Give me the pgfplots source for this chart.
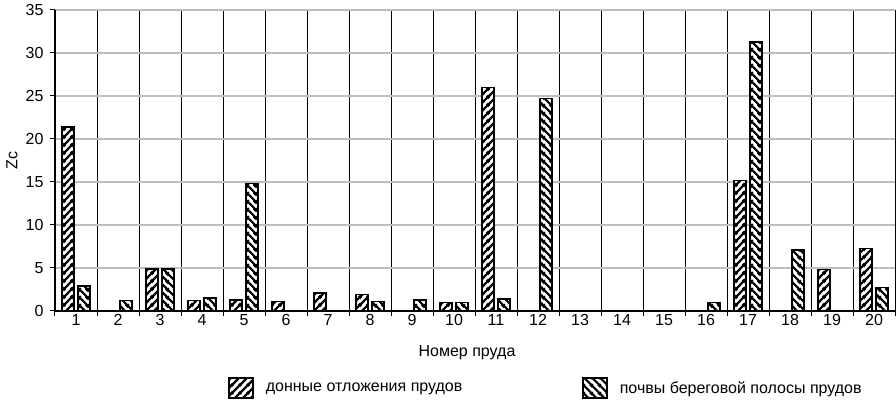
\documentclass[border=0pt]{standalone}
\usepackage{fontspec}
\setmainfont{Liberation Sans}
\usepackage{pgfplots}
\pgfplotsset{compat=1.18}
\usetikzlibrary{patterns.meta}

\tikzdeclarepattern{
  name=hne, type=uncolored,
  bounding box={(0,0) and (8pt,8pt)},
  tile size={(8pt,8pt)},
  code={
    \pgfsetlinewidth{2.4pt}
    \draw (-1pt,-1pt) -- (9pt,9pt);
    \draw (-2pt,6pt) -- (2pt,10pt);
    \draw (6pt,-2pt) -- (10pt,2pt);
  }
}
\tikzdeclarepattern{
  name=hnw, type=uncolored,
  bounding box={(0,0) and (8pt,8pt)},
  tile size={(8pt,8pt)},
  code={
    \pgfsetlinewidth{2.4pt}
    \draw (-1pt,9pt) -- (9pt,-1pt);
    \draw (-2pt,2pt) -- (2pt,-2pt);
    \draw (6pt,10pt) -- (10pt,6pt);
  }
}
\definecolor{gridgray}{RGB}{190,190,190}

\begin{document}
\begin{tikzpicture}[font=\fontsize{16pt}{18pt}\selectfont]
\path[use as bounding box] (0,0) rectangle (896pt,409pt);
\begin{axis}[
  at={(55pt,98pt)}, anchor=south west,
  scale only axis, width=840pt, height=301pt,
  xmin=0.5, xmax=20.5, ymin=0, ymax=35,
  axis lines*=left,
  axis line style={-, line width=1.5pt, black},
  ybar=4pt, bar width=12pt,
  xtick={0.5,1.5,...,20.5}, xticklabel={\mbox{}},
  extra x ticks={1,2,...,20},
  extra x tick labels={1,2,3,4,5,6,7,8,9,10,11,12,13,14,15,16,17,18,19,20},
  extra x tick style={grid=none, major tick length=0pt},
  ytick={0,5,...,35},
  yticklabel style={xshift=-3pt},
  tick align=outside, major tick length=5pt,
  tick style={black, line width=1pt},
  xmajorgrids, ymajorgrids,
  x grid style={black, line width=0.8pt},
  y grid style={gridgray, line width=1.5pt},
  /pgf/number format/assume math mode=true,
  xlabel={Номер пруда},
  ylabel={Zc},
  xlabel style={at={(axis description cs:0.5,0)}, anchor=center, yshift=-42pt, xshift=-8pt},
  ylabel style={at={(axis description cs:-0.0512,0.5)}, anchor=center},
  legend style={at={(axis description cs:0.5,0)}, anchor=center, xshift=71pt, yshift=-77pt,
    draw=none, fill=none,
    legend columns=2,
    /tikz/every even column/.append style={column sep=118pt},
    /tikz/every odd column/.append style={column sep=10pt}},
  legend image code/.code={\draw[#1] (0pt,-10pt) rectangle (24pt,10pt);},
]
\addplot[draw=black, line width=1.4pt, fill=white, postaction={pattern=hne}]
  coordinates {(1,21.4) (3,4.9) (4,1.2) (5,1.3) (6,1.1) (7,2.1) (8,1.9) (10,1.0) (11,26.0) (17,15.2) (19,4.8) (20,7.3)};
\addplot[draw=black, line width=1.4pt, fill=white, postaction={pattern=hnw}]
  coordinates {(1,2.9) (2,1.2) (3,4.9) (4,1.5) (5,14.8) (8,1.1) (9,1.3) (10,1.0) (11,1.4) (12,24.7) (16,1.0) (17,31.3) (18,7.1) (20,2.7)};
\legend{донные отложения прудов, почвы береговой полосы прудов}
\end{axis}
\end{tikzpicture}
\end{document}
